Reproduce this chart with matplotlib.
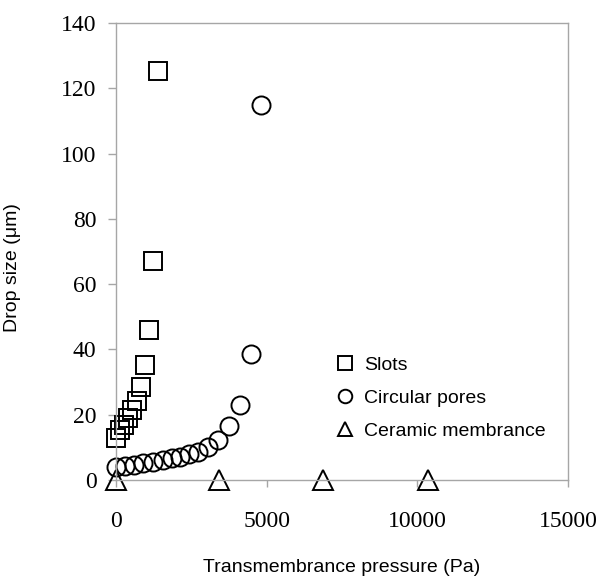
import matplotlib
matplotlib.use("Agg")
import matplotlib.pyplot as plt

# Data
slots_x = [0, 135, 275, 410, 545, 690, 830, 962, 1095, 1228, 1380]
slots_y = [13.0, 15.3, 16.8, 18.9, 21.4, 24.2, 28.5, 35.2, 45.9, 67.0, 125.3]

pores_x = [0, 300, 610, 907, 1239, 1550, 1850, 2130, 2430, 2730, 3064, 3396, 3760, 4115, 4480, 4825]
pores_y = [4.1, 4.3, 4.6, 5.1, 5.6, 6.1, 6.6, 7.1, 7.9, 8.7, 10.2, 12.4, 16.5, 22.9, 38.5, 115.0]

ceramic_x = [0, 3430, 6880, 10350]
ceramic_y = [0, 0, 0, 0]

x_ticks = [0, 5000, 10000, 15000]
y_ticks = [0, 20, 40, 60, 80, 100, 120, 140]

fig = plt.figure(figsize=(6.0, 5.76), dpi=100)
ax = fig.add_axes([116/600, 1 - 480/576, (568-116)/600, (480-23)/576])

gray = "#a6a6a6"
mk = dict(linestyle="none", markerfacecolor="none", markeredgecolor="black",
          markeredgewidth=1.4, clip_on=False)
ax.plot(slots_x, slots_y, marker="s", markersize=12.5, label="Slots", **mk)
ax.plot(pores_x, pores_y, marker="o", markersize=13, label="Circular pores", **mk)
ax.plot(ceramic_x, ceramic_y, marker="^", markersize=14, label="Ceramic membrance", **mk)

ax.set_xlim(0, 15000)
ax.set_ylim(0, 140)
ax.set_xticks(x_ticks)
ax.set_yticks(y_ticks)
ax.set_xticklabels([str(t) for t in x_ticks], family="Liberation Serif", fontsize=17)
ax.set_yticklabels([str(t) for t in y_ticks], family="Liberation Serif", fontsize=17)
ax.tick_params(axis="x", direction="out", length=5, width=1, color=gray, pad=17)
ax.tick_params(axis="y", direction="out", length=6, width=1, color=gray, pad=8)
for s in ax.spines.values():
    s.set_color(gray)
    s.set_linewidth(1)

ax.set_xlabel("Transmembrance pressure (Pa)", family="Liberation Sans", fontsize=14, labelpad=20)
fig.text(13/600, 1 - 268/576, "Drop size (\u03bcm)", family="Liberation Sans", fontsize=14,
         rotation=90, ha="center", va="center")

leg = ax.legend(loc="upper left", bbox_to_anchor=(336/600, 1 - 356/576),
                bbox_transform=fig.transFigure, frameon=False,
                prop={"family": "Liberation Sans", "size": 14},
                markerscale=0.75, handlelength=0.9, handletextpad=0.55,
                labelspacing=0.79, borderpad=0, borderaxespad=0)

fig.savefig("out.png", dpi=100)
